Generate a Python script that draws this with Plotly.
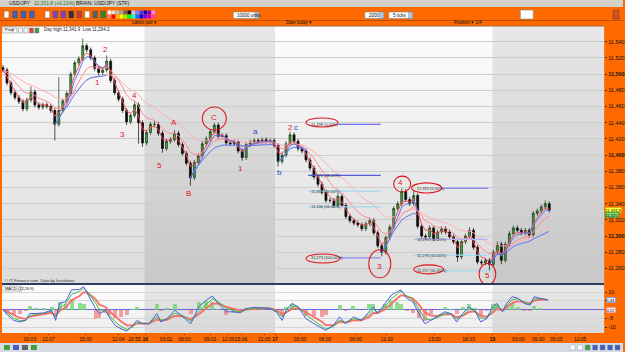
import pandas as pd
import plotly.graph_objects as go

W, H = 625, 352


def px(x):
    return x / W


def py(y):
    return 1 - y / H


# ---------------- DATA ----------------
first_open = 11508
closes = [11505, 11489, 11477, 11471, 11466, 11457, 11468, 11478, 11462, 11459,
          11462, 11460, 11455, 11438, 11455, 11467, 11476, 11500, 11514, 11519,
          11535, 11530, 11520, 11507, 11502, 11505, 11516, 11492, 11477, 11469,
          11455, 11441, 11449, 11462, 11440, 11415, 11428, 11438, 11438, 11427,
          11408, 11417, 11419, 11427, 11413, 11402, 11390, 11372, 11391, 11399,
          11414, 11420, 11429, 11437, 11423, 11424, 11415, 11414, 11416, 11405,
          11397, 11413, 11416, 11418, 11416, 11419, 11417, 11418, 11412, 11392,
          11400, 11414, 11425, 11417, 11408, 11405, 11394, 11384, 11373, 11364,
          11354, 11344, 11344, 11338, 11349, 11338, 11324, 11319, 11316, 11314,
          11309, 11315, 11319, 11304, 11288, 11280, 11298, 11311, 11334, 11340,
          11355, 11345, 11340, 11350, 11312, 11300, 11299, 11310, 11297, 11305,
          11309, 11305, 11299, 11293, 11274, 11293, 11300, 11307, 11286, 11268,
          11267, 11270, 11265, 11280, 11290, 11270, 11290, 11303, 11310, 11307,
          11304, 11307, 11301, 11328, 11331, 11336, 11340, 11332]
highs = [11511, 11508, 11492, 11480, 11474, 11469, 11471, 11485, 11481, 11465,
         11465, 11465, 11463, 11458, 11496, 11470, 11479, 11503, 11517, 11522,
         11544, 11538, 11533, 11523, 11510, 11508, 11523, 11519, 11495, 11480,
         11472, 11458, 11452, 11466, 11465, 11443, 11431, 11441, 11442, 11441,
         11430, 11420, 11422, 11431, 11430, 11416, 11405, 11393, 11394, 11402,
         11417, 11423, 11432, 11440, 11440, 11427, 11427, 11418, 11419, 11419,
         11408, 11416, 11419, 11421, 11421, 11422, 11422, 11421, 11421, 11415,
         11403, 11417, 11429, 11428, 11420, 11411, 11408, 11397, 11387, 11376,
         11367, 11357, 11347, 11347, 11353, 11352, 11341, 11327, 11322, 11319,
         11317, 11318, 11322, 11322, 11307, 11291, 11301, 11314, 11337, 11343,
         11359, 11358, 11348, 11356, 11353, 11315, 11303, 11313, 11313, 11308,
         11312, 11312, 11308, 11302, 11296, 11296, 11303, 11311, 11310, 11289,
         11271, 11273, 11273, 11283, 11293, 11293, 11293, 11306, 11313, 11313,
         11310, 11310, 11310, 11331, 11334, 11339, 11344, 11343]
lows = [11502, 11486, 11474, 11468, 11463, 11454, 11454, 11465, 11459, 11456,
        11456, 11457, 11452, 11418, 11435, 11452, 11464, 11473, 11497, 11511,
        11516, 11527, 11517, 11504, 11498, 11499, 11502, 11489, 11474, 11466,
        11452, 11437, 11438, 11446, 11414, 11410, 11412, 11425, 11434, 11424,
        11403, 11405, 11414, 11416, 11410, 11399, 11387, 11362, 11369, 11388,
        11396, 11411, 11417, 11426, 11420, 11420, 11412, 11411, 11411, 11402,
        11393, 11394, 11410, 11413, 11413, 11413, 11414, 11414, 11409, 11386,
        11389, 11397, 11411, 11414, 11405, 11402, 11391, 11381, 11370, 11361,
        11351, 11341, 11341, 11335, 11335, 11335, 11321, 11316, 11313, 11311,
        11306, 11306, 11312, 11301, 11285, 11275, 11277, 11295, 11308, 11331,
        11337, 11342, 11337, 11337, 11309, 11297, 11296, 11296, 11294, 11294,
        11302, 11302, 11296, 11290, 11268, 11271, 11290, 11297, 11283, 11265,
        11264, 11264, 11257, 11262, 11277, 11265, 11267, 11287, 11300, 11304,
        11301, 11301, 11298, 11298, 11325, 11328, 11333, 11329]

# moving averages (pink) and anchored averages (blue)
ma_spans = [3, 8, 18]
ma_colors = ["#ff4d5a", "#ff8a95", "#ffb0b8"]
blue_anchor_start = [13, 47, 69, 95, 122]
blue_anchor_end = [26, 68, 76, 104, 137]

# MACD panel
macd_x = [0, 1.2, 2.7, 4.2, 5.7, 6.7, 8.2, 10.2, 12.2, 13.2, 14.2, 15.7, 17.2, 19.2, 20.2,
          21.2, 23.2, 24.2, 25.7, 26.6, 28.1, 29.6, 31.1, 32.6, 33.6, 35.1, 36.6, 38.6, 39.6,
          41.1, 43.1, 45.1, 47.1, 49.1, 51.0, 52.5, 54.0, 56.0, 58.0, 59.5, 61.0, 63.0, 65.0,
          67.0, 68.5, 70.0, 71.0, 72.5, 74.0, 76.0, 78.0, 80.0, 80.9, 82.9, 84.4, 85.9, 87.9,
          89.9, 91.9, 92.9, 93.9, 95.9, 97.4, 98.9, 99.8, 101.3, 102.8, 104.3, 105.8, 107.3,
          108.8, 110.8, 112.3, 113.8, 115.3, 116.8, 118.3, 119.8, 121.3, 122.8, 123.8, 125.3,
          126.3, 127.7, 129.2, 130.7, 132.2, 133.2, 134.7, 136.7]
macd_vals = [0, -3.3, -6.2, -7.1, -6.2, -2.3, -2.3, -1.9, -0.4, -6.2, 3.5, 4.4, 11.2, 11.5, 13.1,
             9.2, 0.6, -2.3, -0.4, -4.2, -9.0, -11.0, -12.3, -9.0, -6.2, -8.1, -8.1, -2.3, -7.1,
             -5.2, -0.4, -4.2, -8.1, 1.5, 5.4, 7.7, 3.5, -1.3, -1.3, -1.9, 0.6, 1.2, 1.0,
             0.6, -1.3, -6.2, -0.4, 3.5, 1.5, -5.2, -8.1, -11.0, -11.9, -9.0, -4.2, -8.1, -4.2,
             -6.2, -1.3, 1.5, -2.3, 3.5, 8.3, 10.2, 11.2, 6.4, 4.4, -2.3, -8.1, -6.2,
             -4.2, -1.3, -2.3, -7.1, -2.3, 1.5, -0.4, -7.1, -5.2, 1.5, 3.5, -1.3,
             3.5, 7.3, 6.4, 3.5, 2.5, 7.3, 6.4, 5.4]

# x-axis ticks (bar positions) and labels
tick_bars = [6.75, 11.4, 20.7, 28.9, 33.0, 35.7, 40.9, 45.5, 52, 56.5, 59.7, 65.5, 68.25,
             74.5, 80.75, 88.4, 96.25, 108.25, 116.75, 122.75, 129.25, 134.25, 138.75, 144.75]
tick_labels = ["00:03", "12:07", "15:00", "12:04", "20:55", "16", "03:02", "06:00", "09:01",
               "12:06", "15:06", "21:05", "17", "03:00", "06:00", "09:00", "12:00", "15:00",
               "18:03", "18", "03:00", "06:00", "09:05", "12:05"]
day_labels = ["16", "17", "18"]
shaded_days = [(35.5, 68.25), (122.75, 151)]

price_ticks = list(range(11260, 11541, 20))
macd_ticks = [-10, -5, 5, 10]
macd_tick_text = ["-10", "-5", "", "10"]

# Fibonacci sets
fib1_vals = [11438, 11375, 11355.5, 11336, 11273]
fib1_pcts = ["0.00%", "38.20%", "50.00%", "61.80%", "100.00%"]
fib1_start = [84, 76.5, 76.5, 76.5, 84.5]
fib1_end = 94.75
fib1_colors = ["#6f6ff0", "#5a5ae0", "#9fd9f0", "#9fd9f0", "#8a8af0"]
fib2_vals = [11359, 11296, 11276.5, 11257]
fib2_pcts = ["0.00%", "38.20%", "50.00%", "61.80%"]
fib2_start = [110, 103, 103, 110.5]
fib2_end = [121.75, 121.5, 122, 122.5]
fib2_colors = ["#6f6ff0", "#b4b4f2", "#9fd9f0", "#9fd9f0"]

# Elliott-wave labels: text, bar position, price
wave_text = ["2", "1", "4", "3", "A", "5", "B", "C", "1", "a", "b", "2", "c", "3", "4", "5"]
wave_bar = [25.75, 23.6, 33, 29.9, 43, 39.25, 46.5, 52.8, 59.5, 63.25, 69.25, 72, 73.6, 94.5, 99.75, 121.5]
wave_price = [11530.6, 11490.2, 11473.8, 11426, 11440, 11387.4, 11352.8, 11446.2, 11383.2,
              11428.5, 11378.3, 11433.8, 11433.8, 11263, 11366, 11250.7]
wave_blue = ["a", "b", "c"]

# circled points: bar0, bar1, price_low, price_high
circle_bar0 = [50, 91.75, 98, 119.4, 76, 76, 102.5, 103]
circle_bar1 = [56, 97.25, 102.25, 123.6, 84, 84.5, 110, 110.5]
circle_lo = [11431, 11248.4, 11354.4, 11240, 11434.7, 11266.7, 11353.2, 11253.3]
circle_hi = [11459.4, 11283, 11374, 11266, 11445.8, 11277.8, 11365.6, 11264.4]

last_price = "11,331.8"

# ---------------- FIGURE ----------------
bars = list(range(len(closes)))
opens = [first_open] + closes[:-1]
s = pd.Series(closes, dtype=float)

fig = go.Figure()

fig.add_trace(go.Candlestick(
    x=bars, open=opens, high=highs, low=lows, close=closes,
    increasing=dict(line=dict(color="#163816", width=0.7), fillcolor="#3fa33f"),
    decreasing=dict(line=dict(color="#0a0a0a", width=0.7), fillcolor="#0a0a0a"),
    whiskerwidth=0, xaxis="x", yaxis="y", showlegend=False, hoverinfo="skip"))

for span, col in zip(ma_spans[::-1], ma_colors[::-1]):
    fig.add_trace(go.Scatter(x=bars, y=s.ewm(span=span, adjust=False).mean(), mode="lines",
                             line=dict(color=col, width=1), xaxis="x", yaxis="y",
                             hoverinfo="skip", showlegend=False))

for a, e in zip(blue_anchor_start, blue_anchor_end):
    seg = s.iloc[a:e + 1]
    xs = bars[a:e + 1]
    for line_y in (seg.expanding().mean(), seg.ewm(span=4, adjust=False).mean()):
        fig.add_trace(go.Scatter(x=xs, y=line_y, mode="lines",
                                 line=dict(color="#5a78f0", width=1), xaxis="x", yaxis="y",
                                 hoverinfo="skip", showlegend=False))

annotations = []
for v, p, x0, c in zip(fib1_vals, fib1_pcts, fib1_start, fib1_colors):
    fig.add_trace(go.Scatter(x=[x0, fib1_end], y=[v, v], mode="lines",
                             line=dict(color=c, width=1.2), xaxis="x", yaxis="y",
                             hoverinfo="skip", showlegend=False))
    annotations.append(dict(x=76.8, y=v, xref="x", yref="y", text=f"{v:,.0f} ({p})",
                            showarrow=False, xanchor="left", yanchor="middle",
                            font=dict(size=4, color="#333")))
for v, p, x0, x1, c in zip(fib2_vals, fib2_pcts, fib2_start, fib2_end, fib2_colors):
    fig.add_trace(go.Scatter(x=[x0, x1], y=[v, v], mode="lines",
                             line=dict(color=c, width=1.2), xaxis="x", yaxis="y",
                             hoverinfo="skip", showlegend=False))
    annotations.append(dict(x=103.3, y=v, xref="x", yref="y", text=f"{v:,.0f} ({p})",
                            showarrow=False, xanchor="left", yanchor="middle",
                            font=dict(size=4, color="#333")))

# MACD
m = pd.Series(macd_vals, dtype=float)
signal = m.ewm(span=4, adjust=False).mean()
fast = m.ewm(span=2, adjust=False).mean()
hist = m - signal
fig.add_trace(go.Bar(x=macd_x, y=hist, width=1.0,
                     marker=dict(color=["rgba(110,210,110,0.75)" if h >= 0 else "rgba(240,130,130,0.75)" for h in hist],
                                 line=dict(width=0)),
                     xaxis="x2", yaxis="y2", hoverinfo="skip", showlegend=False))
fig.add_trace(go.Scatter(x=macd_x, y=signal, mode="lines", line=dict(color="#ff6a6a", width=1.8),
                         xaxis="x2", yaxis="y2", hoverinfo="skip", showlegend=False))
fig.add_trace(go.Scatter(x=macd_x, y=fast, mode="lines", line=dict(color="#3cc03c", width=1),
                         xaxis="x2", yaxis="y2", hoverinfo="skip", showlegend=False))
fig.add_trace(go.Scatter(x=macd_x, y=macd_vals, mode="lines", line=dict(color="#4a5fe0", width=1),
                         xaxis="x2", yaxis="y2", hoverinfo="skip", showlegend=False))

# ---------------- SHAPES ----------------
shapes = []
# white base under the panels, then the gradient (overlapping bands -> no seams)
shapes.append(dict(type="rect", xref="paper", yref="paper", x0=px(2), x1=px(606), y0=py(333), y1=py(26),
                   fillcolor="#fdfdfd", line=dict(width=0), layer="below"))
n = 16
y_top, y_bot = 26, 283
for k in range(n):
    g = int(253 - (253 - 220) * k / (n - 1))
    shapes.append(dict(type="rect", xref="paper", yref="paper", x0=px(2), x1=px(606),
                       y0=py(y_top + (y_bot - y_top) * (k + 1) / n),
                       y1=py(max(y_top, y_top + (y_bot - y_top) * k / n - 1.5)),
                       fillcolor=f"rgb({g},{g},{g})", line=dict(width=0), layer="below"))
for k in range(6):
    g = int(253 - 14 * k / 5)
    shapes.append(dict(type="rect", xref="paper", yref="paper", x0=px(2), x1=px(606),
                       y0=py(285 + 48 * (k + 1) / 6), y1=py(max(285, 285 + 48 * k / 6 - 1.5)),
                       fillcolor=f"rgb({g},{g},{g})", line=dict(width=0), layer="below"))
# shaded days
for d0, d1 in shaded_days:
    shapes.append(dict(type="rect", xref="x", yref="paper", x0=d0, x1=d1, y0=py(333), y1=py(26),
                       fillcolor="rgba(0,0,0,0.085)", line=dict(width=0), layer="below"))
# separators
shapes.append(dict(type="line", xref="paper", yref="paper", x0=px(2), x1=px(606), y0=py(284), y1=py(284),
                   line=dict(color="#2c3b5e", width=2)))
shapes.append(dict(type="line", xref="paper", yref="paper", x0=px(2), x1=px(606), y0=py(26), y1=py(26),
                   line=dict(color="#b06030", width=1)))
# circles / ellipses
for x0, x1, lo, hi in zip(circle_bar0, circle_bar1, circle_lo, circle_hi):
    shapes.append(dict(type="circle", xref="x", yref="y", x0=x0, x1=x1, y0=lo, y1=hi,
                       line=dict(color="#e0141e", width=1.1), layer="above"))

# title bar
shapes.append(dict(type="rect", xref="paper", yref="paper", x0=0, x1=1, y0=py(7), y1=1,
                   fillcolor="#d4d1cb", line=dict(width=0)))
shapes.append(dict(type="line", xref="paper", yref="paper", x0=0, x1=1, y0=py(20.5), y1=py(20.5),
                   line=dict(color="#c05000", width=1)))
# bottom toolbar
shapes.append(dict(type="rect", xref="paper", yref="paper", x0=0, x1=1, y0=0, y1=py(343),
                   fillcolor="#d6dbe4", line=dict(width=0)))
# toolbar icons
for i, c in enumerate(["#ffffff", "#4060c0", "#4060c0", "#4060c0", "#ffffff", "#8040c0", "#8040c0",
                       "#303030", "#c04040", "#ffffff", "#606060", "#2a8a2a"]):
    x0 = 4 + i * 8.5 if i < 4 else 45 + (i - 4) * 8
    shapes.append(dict(type="rect", xref="paper", yref="paper", x0=px(x0), x1=px(x0 + 5),
                       y0=py(18), y1=py(11), fillcolor=c, line=dict(color="#7a4a20", width=0.5)))
pal1 = ["#ffffff", "#e0e0e0", "#c0c0c0", "#a0a0a0", "#606060", "#000000", "#c0c0ff",
        "#8080ff", "#4040ff", "#0000c0", "#8000c0", "#ff80ff"]
pal2 = ["#ff8080", "#ff0000", "#ffc000", "#ffff00", "#80ff00", "#00ff00", "#00ffff",
        "#0080ff", "#0000ff", "#8000ff", "#c000c0", "#ff40a0"]
for i, (c1, c2) in enumerate(zip(pal1, pal2)):
    x0 = 108 + i * 4
    shapes.append(dict(type="rect", xref="paper", yref="paper", x0=px(x0), x1=px(x0 + 3.6),
                       y0=py(14.5), y1=py(10.5), fillcolor=c1, line=dict(width=0)))
    shapes.append(dict(type="rect", xref="paper", yref="paper", x0=px(x0), x1=px(x0 + 3.6),
                       y0=py(18.5), y1=py(14.5), fillcolor=c2, line=dict(width=0)))
for x0, x1 in [(234, 260), (366, 385), (390, 414)]:
    shapes.append(dict(type="rect", xref="paper", yref="paper", x0=px(x0), x1=px(x1),
                       y0=py(18.5), y1=py(12), fillcolor="#ffffff", line=dict(color="#808080", width=0.6)))
    shapes.append(dict(type="rect", xref="paper", yref="paper", x0=px(x1 - 4), x1=px(x1),
                       y0=py(18.5), y1=py(12), fillcolor="#b8c4d8", line=dict(color="#808080", width=0.5)))
shapes.append(dict(type="rect", xref="paper", yref="paper", x0=px(522), x1=px(535), y0=py(19), y1=py(10),
                   fillcolor="#ffffff", line=dict(color="#808080", width=0.6)))
shapes.append(dict(type="rect", xref="paper", yref="paper", x0=px(615), x1=px(621), y0=py(19), y1=py(10),
                   fillcolor="#d05020", line=dict(color="#804020", width=0.6)))
# price / MACD small buttons
for x0, x1, y0, y1 in [(2, 12, 27, 33), (2, 22, 286, 291)]:
    shapes.append(dict(type="rect", xref="paper", yref="paper", x0=px(x0), x1=px(x1), y0=py(y1), y1=py(y0),
                       fillcolor="#f4f4f4", line=dict(color="#909090", width=0.5)))
for i, c in enumerate(["#ffffff", "#ffffff", "#ffffff", "#e04040", "#40a040"]):
    shapes.append(dict(type="rect", xref="paper", yref="paper", x0=px(13 + i * 5.5), x1=px(17 + i * 5.5),
                       y0=py(33), y1=py(28), fillcolor=c, line=dict(color="#707070", width=0.5)))
# bottom toolbar icons
for i, c in enumerate(["#40a040", "#4060c0", "#606060", "#40a040"]):
    shapes.append(dict(type="rect", xref="paper", yref="paper", x0=px(4 + i * 9), x1=px(10 + i * 9),
                       y0=py(350), y1=py(345), fillcolor=c, line=dict(width=0)))
for i, c in enumerate(["#ffffff", "#ffffff", "#40a040", "#4060c0", "#4060c0", "#4060c0", "#4060c0"]):
    shapes.append(dict(type="rect", xref="paper", yref="paper", x0=px(572 + i * 7.5), x1=px(577 + i * 7.5),
                       y0=py(350), y1=py(345), fillcolor=c, line=dict(color="#8090a0", width=0.4)))

# ---------------- ANNOTATIONS ----------------
for t, xb, yp in zip(wave_text, wave_bar, wave_price):
    annotations.append(dict(x=xb, y=yp, xref="x", yref="y", text=t, showarrow=False,
                            font=dict(size=8, color="#2f45c8" if t in wave_blue else "#e0141e"),
                            xanchor="center", yanchor="middle"))


def ptext(x, y, text, size=5, color="#111", xanchor="left", **kw):
    annotations.append(dict(x=px(x), y=py(y), xref="paper", yref="paper", text=text, showarrow=False,
                            xanchor=xanchor, yanchor="middle", font=dict(size=size, color=color), **kw))


ptext(7, 3.5, "USD/JPY", 5)
ptext(32, 3.5, "11,331.8 (+0.21%)", 5, "#1a7a1a")
ptext(74, 3.5, "BRAIN: USD/JPY (STF)", 5)
ptext(236, 15.3, "10000 units", 4.5)
ptext(368, 15.3, "2000", 4.5)
ptext(392, 15.3, "5 ticks", 4.5)
ptext(145, 23, "Latest pair ▾", 4.5, xanchor="center")
ptext(300, 23, "Date today ▾", 4.5, xanchor="center")
ptext(470, 23, "Position ▾ 1/4", 4.5, xanchor="center")
ptext(3, 30, "Price", 4)
ptext(42, 29.5, "Day high 11,341.9  Low 11,294.2", 4.5, "#222")
ptext(3, 280.5, "© IT-Finance.com  Data by Instaforex", 4.2, "#333")
ptext(3, 288.5, "MACD (12,26,9)", 4)
ptext(607, 209.5, last_price, 4, "#000", bgcolor="#ffff40", bordercolor="#b09000", borderwidth=0.5, borderpad=0)
ptext(607, 215, "11,325", 4, "#000", bgcolor="#7ee07e", bordercolor="#208020", borderwidth=0.5, borderpad=0)
ptext(608, 299.5, "5.43", 4, "#000", bgcolor="#e8eefc", bordercolor="#6070d0", borderwidth=0.5, borderpad=0)
ptext(608, 309.5, "0.21", 4, "#000", bgcolor="#fce8ec", bordercolor="#e08090", borderwidth=0.5, borderpad=0)

price_text = [f"<b>{v:,}</b>" if v % 100 == 0 else f"{v:,}" for v in price_ticks]
x_text = [f"<b>{t}</b>" if t in day_labels else t for t in tick_labels]

fig.update_layout(
    width=W, height=H, margin=dict(l=0, r=0, t=0, b=0), autosize=False,
    paper_bgcolor="#ff6a00", plot_bgcolor="rgba(0,0,0,0)",
    font=dict(family="Liberation Sans, Arial, sans-serif", size=6, color="#111"),
    showlegend=False, hovermode=False, bargap=0,
    xaxis=dict(domain=[px(2), px(606)], range=[-0.25, 150.75], showticklabels=False, showgrid=False,
               zeroline=False, rangeslider=dict(visible=False), anchor="y", fixedrange=True),
    yaxis=dict(domain=[py(283), py(26)], range=[11242, 11559.4], side="right", anchor="x",
               tickvals=price_ticks, ticktext=price_text, showgrid=True, gridcolor="#cdcdcd",
               gridwidth=1, zeroline=False, ticks="outside", ticklen=2, tickcolor="#333",
               tickfont=dict(size=5.5, color="#111"), fixedrange=True),
    xaxis2=dict(domain=[px(2), px(606)], matches="x", anchor="y2", tickvals=tick_bars,
                ticktext=x_text, tickangle=0, tickfont=dict(size=5, color="#111"), showgrid=False,
                zeroline=False, ticks="outside", ticklen=1, tickcolor="#333", fixedrange=True),
    yaxis2=dict(domain=[py(333), py(285)], range=[-13.4, 14], side="right", anchor="x2",
                tickvals=macd_ticks, ticktext=macd_tick_text, showgrid=True,
                gridcolor="#d6d6d6", zeroline=True, zerolinecolor="#6a6ae0", zerolinewidth=1,
                tickfont=dict(size=5.5, color="#111"), ticks="outside", ticklen=2, tickcolor="#333",
                fixedrange=True),
    shapes=shapes, annotations=annotations,
)

fig.write_html("out.html")
